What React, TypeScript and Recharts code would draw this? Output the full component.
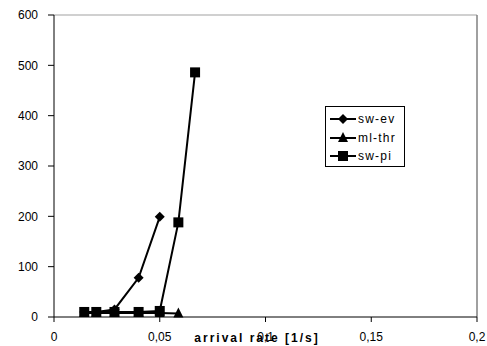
import React from "react";
import { LineChart, Line, XAxis, YAxis, ReferenceLine } from "recharts";

// arrival rates (1/70, 1/50, 1/35, 1/25, 1/20, 1/17, 1/15)
const rates = [0.0143, 0.02, 0.0286, 0.04, 0.05, 0.0588, 0.0667];

const swEv = [10, 10, 15, 78, 199];
const mlThr = [8, 8, 8, 8, 8, 7];
const swPi = [10, 10, 10, 10, 12, 188, 486];

const xTicks = [0, 0.05, 0.1, 0.15, 0.2];
const yTicks = [0, 100, 200, 300, 400, 500, 600];

const toRows = (vals: number[]) => vals.map((v, i) => ({ x: rates[i], y: v }));

const FONT = "'Liberation Sans', Arial, sans-serif";

const Diamond = (props: any) => {
  const { cx, cy } = props;
  if (cx == null || cy == null) return null;
  const r = 5;
  return (
    <polygon
      points={`${cx},${cy - r} ${cx + r},${cy} ${cx},${cy + r} ${cx - r},${cy}`}
      fill="#000"
    />
  );
};

const Triangle = (props: any) => {
  const { cx, cy } = props;
  if (cx == null || cy == null) return null;
  return (
    <polygon
      points={`${cx},${cy - 6} ${cx + 5},${cy + 4} ${cx - 5},${cy + 4}`}
      fill="#000"
    />
  );
};

const Square = (props: any) => {
  const { cx, cy } = props;
  if (cx == null || cy == null) return null;
  return <rect x={cx - 5} y={cy - 5} width={10} height={10} fill="#000" />;
};

const series = [
  { name: "sw-ev", data: toRows(swEv), Shape: Diamond },
  { name: "ml-thr", data: toRows(mlThr), Shape: Triangle },
  { name: "sw-pi", data: toRows(swPi), Shape: Square },
];

// legend drawn as an overlay box, like the excel one
const LegendBox = () => (
  <div
    style={{
      position: "absolute",
      left: 325,
      top: 106,
      border: "1px solid #000",
      background: "#fff",
      width: 80,
      height: 61,
      boxSizing: "border-box",
      padding: "3px 0 0 3px",
      fontFamily: FONT,
      fontSize: 12,
      letterSpacing: 1.2,
    }}
  >
    {series.map(({ name, Shape }) => (
      <div key={name} style={{ display: "flex", alignItems: "center", height: 18.5 }}>
        <svg width={28} height={14}>
          <line x1={1} y1={7} x2={27} y2={7} stroke="#000" strokeWidth={2} />
          <Shape cx={14} cy={7} />
        </svg>
        <span style={{ marginLeft: 1 }}>{name}</span>
      </div>
    ))}
  </div>
);

export default function App() {
  return (
    <div style={{ position: "absolute", left: 0, top: 0, width: 487, height: 346, background: "#fff" }}>
      <LineChart
        width={487}
        height={346}
        margin={{ top: 15, right: 10, bottom: 0, left: 0 }}
      >
        <XAxis
          dataKey="x"
          type="number"
          domain={[0, 0.2]}
          ticks={xTicks}
          allowDuplicatedCategory={false}
          tickFormatter={(v: number) => String(v).replace(".", ",")}
          tick={{ fill: "#000", fontSize: 12, fontFamily: FONT }}
          tickSize={5}
          tickMargin={10}
          stroke="#000"
          height={29}
          label={{
            value: "arrival rate [1/s]",
            content: () => (
              <text
                x={257}
                y={342}
                textAnchor="middle"
                fontFamily={FONT}
                fontSize={12}
                fontWeight="bold"
                letterSpacing={2}
                fill="#000"
              >
                arrival rate [1/s]
              </text>
            ),
          }}
        />
        <YAxis
          type="number"
          domain={[0, 600]}
          ticks={yTicks}
          tick={{ fill: "#000", fontSize: 12, fontFamily: FONT }}
          tickSize={6}
          tickMargin={10}
          stroke="#000"
          width={54}
        />
        <ReferenceLine y={600} stroke="#c0c0c0" strokeWidth={1.5} />
        <ReferenceLine x={0.2} stroke="#808080" strokeWidth={1.5} />
        {series.map(({ name, data, Shape }) => (
          <Line
            key={name}
            name={name}
            data={data}
            dataKey="y"
            type="linear"
            stroke="#000"
            strokeWidth={2}
            dot={(p: any) => <Shape key={`${name}-${p.index}`} {...p} />}
            activeDot={false}
            isAnimationActive={false}
          />
        ))}
      </LineChart>
      <LegendBox />
    </div>
  );
}
